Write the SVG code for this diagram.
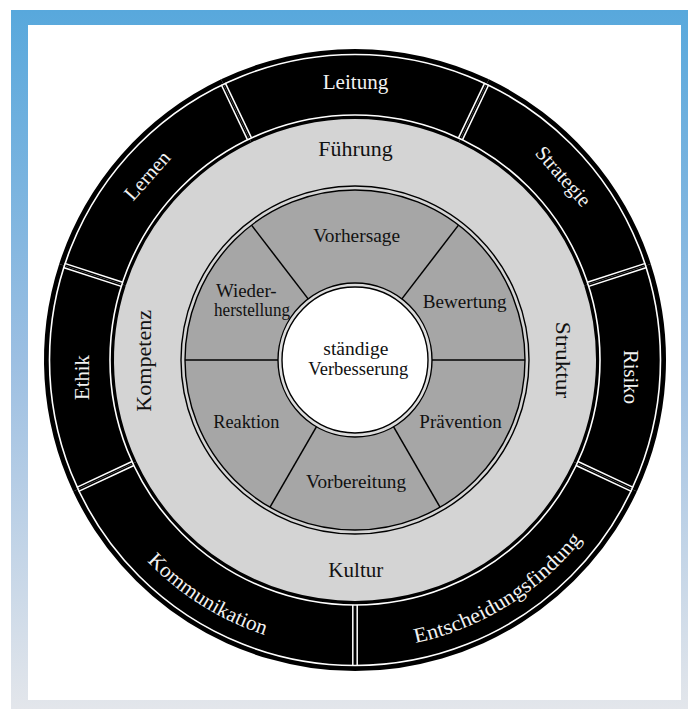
<svg xmlns="http://www.w3.org/2000/svg" width="688" height="709" viewBox="0 0 688 709">
<defs>
<linearGradient id="frameGrad" x1="0" y1="0" x2="0" y2="1">
<stop offset="0" stop-color="#58a8dc"/>
<stop offset="0.5" stop-color="#9cbfe2"/>
<stop offset="1" stop-color="#e3e6eb"/>
</linearGradient>
<g id="osep">
<line x1="352.8" y1="54" x2="352.8" y2="115" stroke="#fff" stroke-width="1.5"/>
<line x1="357.2" y1="54" x2="357.2" y2="115" stroke="#fff" stroke-width="1.5"/>
</g>
<line id="isep" x1="355" y1="283" x2="355" y2="190" stroke="#000" stroke-width="1.5"/>
<path id="arcPath" d="M 65.5 360 A 289.5 289.5 0 0 0 644.5 360"/>
</defs>
<style>
.o{fill:#000}
.s{fill:#a6a6a6}
.tw{font-family:"Liberation Serif","Times New Roman",serif;font-size:20.5px;fill:#f2f2f2;text-anchor:middle}
.tb{font-family:"Liberation Serif","Times New Roman",serif;font-size:20.5px;fill:#111;text-anchor:middle}
.ti{font-family:"Liberation Serif","Times New Roman",serif;font-size:18.5px;fill:#111;text-anchor:middle}
.ring{fill:none;stroke:#000;stroke-width:1.4}
</style>

<g id="frame">
<rect x="11" y="10" width="677" height="699" fill="url(#frameGrad)"/>
<rect x="28" y="25" width="653" height="675" fill="#fff"/>
</g>

<g id="middle-ring">
<circle cx="355" cy="360" r="242" fill="#d4d4d4"/>
</g>

<g id="outer-segments">
<g id="n-leitung">
<path class="o" d="M 221.11 79.29 A 311 311 0 0 1 488.89 79.29 L 458.75 142.48 A 241 241 0 0 0 251.25 142.48 Z"/>
<text class="tw" x="355.5" y="88.5" textLength="65.7" lengthAdjust="spacingAndGlyphs">Leitung</text>
</g>
<g id="n-strategie">
<path class="o" d="M 488.89 79.29 A 311 311 0 0 1 650.78 263.90 L 584.21 285.53 A 241 241 0 0 0 458.75 142.48 Z"/>
<text class="tw" x="355" y="89" transform="rotate(48.6 355 360)">Strategie</text>
</g>
<g id="n-risiko">
<path class="o" d="M 650.78 263.90 A 311 311 0 0 1 636.86 491.43 L 573.42 461.85 A 241 241 0 0 0 584.21 285.53 Z"/>
<text class="tw" transform="translate(623.5,377) rotate(90)" textLength="54" lengthAdjust="spacingAndGlyphs">Risiko</text>
</g>
<g id="n-entscheidungsfindung">
<path class="o" d="M 636.86 491.43 A 311 311 0 0 1 355 671 L 355 601 A 241 241 0 0 0 573.42 461.85 Z"/>
<text class="tw" style="font-size:21px"><textPath href="#arcPath" startOffset="615.4" textLength="200" lengthAdjust="spacingAndGlyphs">Entscheidungsfindung</textPath></text>
</g>
<g id="n-kommunikation">
<path class="o" d="M 355 671 A 311 311 0 0 1 73.14 491.43 L 136.58 461.85 A 241 241 0 0 0 355 601 Z"/>
<text class="tw" style="font-size:21px"><textPath href="#arcPath" startOffset="292.5" textLength="140" lengthAdjust="spacingAndGlyphs">Kommunikation</textPath></text>
</g>
<g id="n-ethik">
<path class="o" d="M 73.14 491.43 A 311 311 0 0 1 59.22 263.90 L 125.79 285.53 A 241 241 0 0 0 136.58 461.85 Z"/>
<text class="tw" transform="translate(89.3,377.5) rotate(-90)" textLength="45" lengthAdjust="spacingAndGlyphs">Ethik</text>
</g>
<g id="n-lernen">
<path class="o" d="M 59.22 263.90 A 311 311 0 0 1 221.11 79.29 L 251.25 142.48 A 241 241 0 0 0 125.79 285.53 Z"/>
<text class="tw" x="355" y="89" transform="rotate(-48.4 355 360)">Lernen</text>
</g>
</g>

<g id="outer-lines">
<circle cx="355" cy="360" r="305.5" fill="none" stroke="#fff" stroke-width="1.6"/>
<circle cx="355" cy="360" r="245" fill="none" stroke="#fff" stroke-width="1.6"/>
<use href="#osep" transform="rotate(-25.5 355 360)"/>
<use href="#osep" transform="rotate(25.5 355 360)"/>
<use href="#osep" transform="rotate(72 355 360)"/>
<use href="#osep" transform="rotate(115 355 360)"/>
<use href="#osep" transform="rotate(180 355 360)"/>
<use href="#osep" transform="rotate(245 355 360)"/>
<use href="#osep" transform="rotate(288 355 360)"/>
</g>

<g id="middle-labels">
<g id="n-fuehrung"><text class="tb" x="355.5" y="156" textLength="74.3" lengthAdjust="spacingAndGlyphs">Führung</text></g>
<g id="n-struktur"><text class="tb" transform="translate(556,360) rotate(90)" textLength="76.7" lengthAdjust="spacingAndGlyphs">Struktur</text></g>
<g id="n-kultur"><text class="tb" x="355.8" y="577" textLength="55" lengthAdjust="spacingAndGlyphs">Kultur</text></g>
<g id="n-kompetenz"><text class="tb" transform="translate(150.5,360.8) rotate(-90)" textLength="101.7" lengthAdjust="spacingAndGlyphs">Kompetenz</text></g>
</g>

<g id="inner-segments">
<circle class="ring" cx="355" cy="360" r="174"/>
<g id="n-vorhersage">
<path class="s" d="M 251.51 225.13 A 170 170 0 0 1 458.49 225.13 L 401.87 298.91 A 77 77 0 0 0 308.13 298.91 Z"/>
<text class="ti" x="356.7" y="241.7" textLength="86.7" lengthAdjust="spacingAndGlyphs">Vorhersage</text>
</g>
<g id="n-bewertung">
<path class="s" d="M 458.49 225.13 A 170 170 0 0 1 525 360 L 432 360 A 77 77 0 0 0 401.87 298.91 Z"/>
<text class="ti" x="464.7" y="307.7" textLength="84" lengthAdjust="spacingAndGlyphs">Bewertung</text>
</g>
<g id="n-praevention">
<path class="s" d="M 525 360 A 170 170 0 0 1 440 507.22 L 393.5 426.68 A 77 77 0 0 0 432 360 Z"/>
<text class="ti" x="460.5" y="428.3" textLength="82.3" lengthAdjust="spacingAndGlyphs">Prävention</text>
</g>
<g id="n-vorbereitung">
<path class="s" d="M 440 507.22 A 170 170 0 0 1 270 507.22 L 316.5 426.68 A 77 77 0 0 0 393.5 426.68 Z"/>
<text class="ti" x="356" y="488.3" textLength="100" lengthAdjust="spacingAndGlyphs">Vorbereitung</text>
</g>
<g id="n-reaktion">
<path class="s" d="M 270 507.22 A 170 170 0 0 1 185 360 L 278 360 A 77 77 0 0 0 316.5 426.68 Z"/>
<text class="ti" x="246.3" y="428.3" textLength="66" lengthAdjust="spacingAndGlyphs">Reaktion</text>
</g>
<g id="n-wiederherstellung">
<path class="s" d="M 185 360 A 170 170 0 0 1 251.51 225.13 L 308.13 298.91 A 77 77 0 0 0 278 360 Z"/>
<text class="ti" x="246.3" y="297" textLength="60.7" lengthAdjust="spacingAndGlyphs">Wieder-</text>
<text class="ti" x="252" y="316" textLength="76" lengthAdjust="spacingAndGlyphs">herstellung</text>
</g>
<circle class="ring" cx="355" cy="360" r="170"/>
</g>

<g id="inner-lines">
<use href="#isep" transform="rotate(-37.5 355 360)"/>
<use href="#isep" transform="rotate(37.5 355 360)"/>
<use href="#isep" transform="rotate(90 355 360)"/>
<use href="#isep" transform="rotate(150 355 360)"/>
<use href="#isep" transform="rotate(210 355 360)"/>
<use href="#isep" transform="rotate(270 355 360)"/>
</g>

<g id="n-center">
<circle cx="355" cy="360" r="77" fill="#dcdcdc" stroke="#000" stroke-width="1.4"/>
<circle cx="355" cy="360" r="73" fill="#fff" stroke="#000" stroke-width="1.4"/>
<text class="ti" x="355.8" y="355" textLength="65" lengthAdjust="spacingAndGlyphs">ständige</text>
<text class="ti" x="358.3" y="375" textLength="100" lengthAdjust="spacingAndGlyphs">Verbesserung</text>
</g>
</svg>
